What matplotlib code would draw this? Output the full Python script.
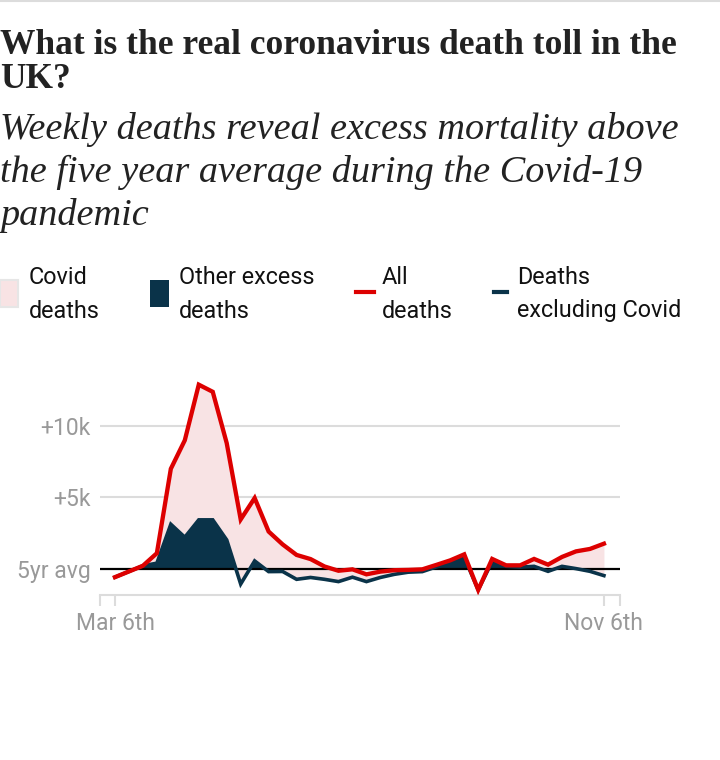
import numpy as np
import matplotlib
matplotlib.use("Agg")
import matplotlib.pyplot as plt
from matplotlib import font_manager
from matplotlib.patches import Rectangle
from matplotlib.lines import Line2D

# weekly deaths relative to the five year average, Mar 6th .. Nov 6th
weeks = np.arange(36)
all_deaths = [-600, -200, 200, 1080, 7000, 9000, 12900, 12400, 8800, 3450,
              4950, 2600, 1700, 960, 670, 150, -150, -50, -400, -210,
              -110, -90, -50, 260, 580, 1000, -1490, 680, 230, 230,
              680, 280, 820, 1210, 1380, 1750]
excl_covid = [-600, -200, 200, 380, 3110, 2200, 3420, 3420, 2010, -1080,
              540, -210, -200, -750, -620, -750, -910, -600, -910, -620,
              -400, -250, -210, 120, 400, 800, -1490, 500, 160, 100,
              160, -190, 160, 0, -190, -490]
ytick_vals = [0, 5000, 10000]
ytick_labels = ["5yr avg", "+5k", "+10k"]
xtick_labels = ["Mar 6th", "Nov 6th"]

RED = "#dd0000"
NAVY = "#0a3349"
PINK = "#f8e3e4"
GRID = "#dcdcdc"
GREY = "#999999"

names = {f.name for f in font_manager.fontManager.ttflist}
def pick(*fams):
    for f in fams:
        if f in names:
            return f
    return "DejaVu Sans"

SANS = pick("Roboto", "Liberation Sans")
SERIF = pick("Liberation Serif", "DejaVu Serif")

W, H = 720, 760
fig = plt.figure(figsize=(W / 100, H / 100), dpi=100)

def fx(px):
    return px / W

def fy(py):
    return 1 - py / H

# thin rule at the very top
fig.add_artist(Line2D([0, 1], [fy(1), fy(1)], color=GRID, lw=1.5))

fig.text(0, fy(54), "What is the real coronavirus death toll in the",
         family=SERIF, weight="bold", fontsize=25.5, color="#222222", va="baseline")
fig.text(0, fy(88), "UK?", family=SERIF, weight="bold", fontsize=25.5,
         color="#222222", va="baseline")
sub = ["Weekly deaths reveal excess mortality above",
       "the five year average during the Covid-19",
       "pandemic"]
for k, line in enumerate(sub):
    fig.text(0, fy(139 + 43 * k), line, family=SERIF, style="italic",
             fontsize=27.5, color="#222222", va="baseline")

# legend
fig.add_artist(Rectangle((fx(0), fy(307)), fx(18), 27 / H, facecolor=PINK,
                         edgecolor="#e6e6e6", lw=1.5))
fig.add_artist(Rectangle((fx(150), fy(307)), fx(19), 27 / H, facecolor=NAVY,
                         edgecolor="none"))
fig.add_artist(Line2D([fx(356), fx(374)], [fy(292), fy(292)], color=RED, lw=3))
fig.add_artist(Line2D([fx(494), fx(507)], [fy(292), fy(292)], color=NAVY, lw=3))
legend_items = [(29, "Covid", "deaths"), (179, "Other excess", "deaths"),
                (382, "All", "deaths"), (517, "Deaths", "excluding Covid")]
for x, l1, l2 in legend_items:
    fig.text(fx(x), fy(277), l1, family=SANS, fontsize=16.8, color="#111111", va="center")
    fig.text(fx(x), fy(311), l2, family=SANS, fontsize=16.8, color="#111111", va="center")

# chart area
bottom_px, top_px = 595, 369
ax = fig.add_axes([fx(100), fy(bottom_px), fx(520), (bottom_px - top_px) / H])
ax.set_xlim(-1.07, 36.15)
ax.set_ylim(-1850, 14000)

all_d = np.array(all_deaths)
excl = np.array(excl_covid)
ax.fill_between(weeks, excl, all_d, color=PINK, lw=0, zorder=1)
ax.fill_between(weeks, 0, excl, where=excl > 0, interpolate=True,
                color=NAVY, lw=0, zorder=2)
for v in ytick_vals[1:]:
    ax.axhline(v, color=GRID, lw=1.5, zorder=0)
ax.axhline(0, color="black", lw=1.6, zorder=3)
ax.plot(weeks, excl, color=NAVY, lw=2.6, zorder=4, solid_joinstyle="miter")
ax.plot(weeks, all_d, color=RED, lw=3.1, zorder=5, solid_joinstyle="miter")

for s in ["top", "right", "left"]:
    ax.spines[s].set_visible(False)
ax.spines["bottom"].set_color(GRID)
ax.spines["bottom"].set_linewidth(1.5)

ax.set_yticks(ytick_vals)
ax.set_yticklabels(ytick_labels, family=SANS, fontsize=16.5, color=GREY)
ax.tick_params(axis="y", length=0, pad=7)

ax.set_xticks([-1.07, 0, 35, 36.15])
ax.set_xticklabels(["", xtick_labels[0], xtick_labels[1], ""],
                   family=SANS, fontsize=16.5, color=GREY)
ax.tick_params(axis="x", length=8, width=1.5, color=GRID, pad=4)

fig.savefig("out.png", dpi=100)
